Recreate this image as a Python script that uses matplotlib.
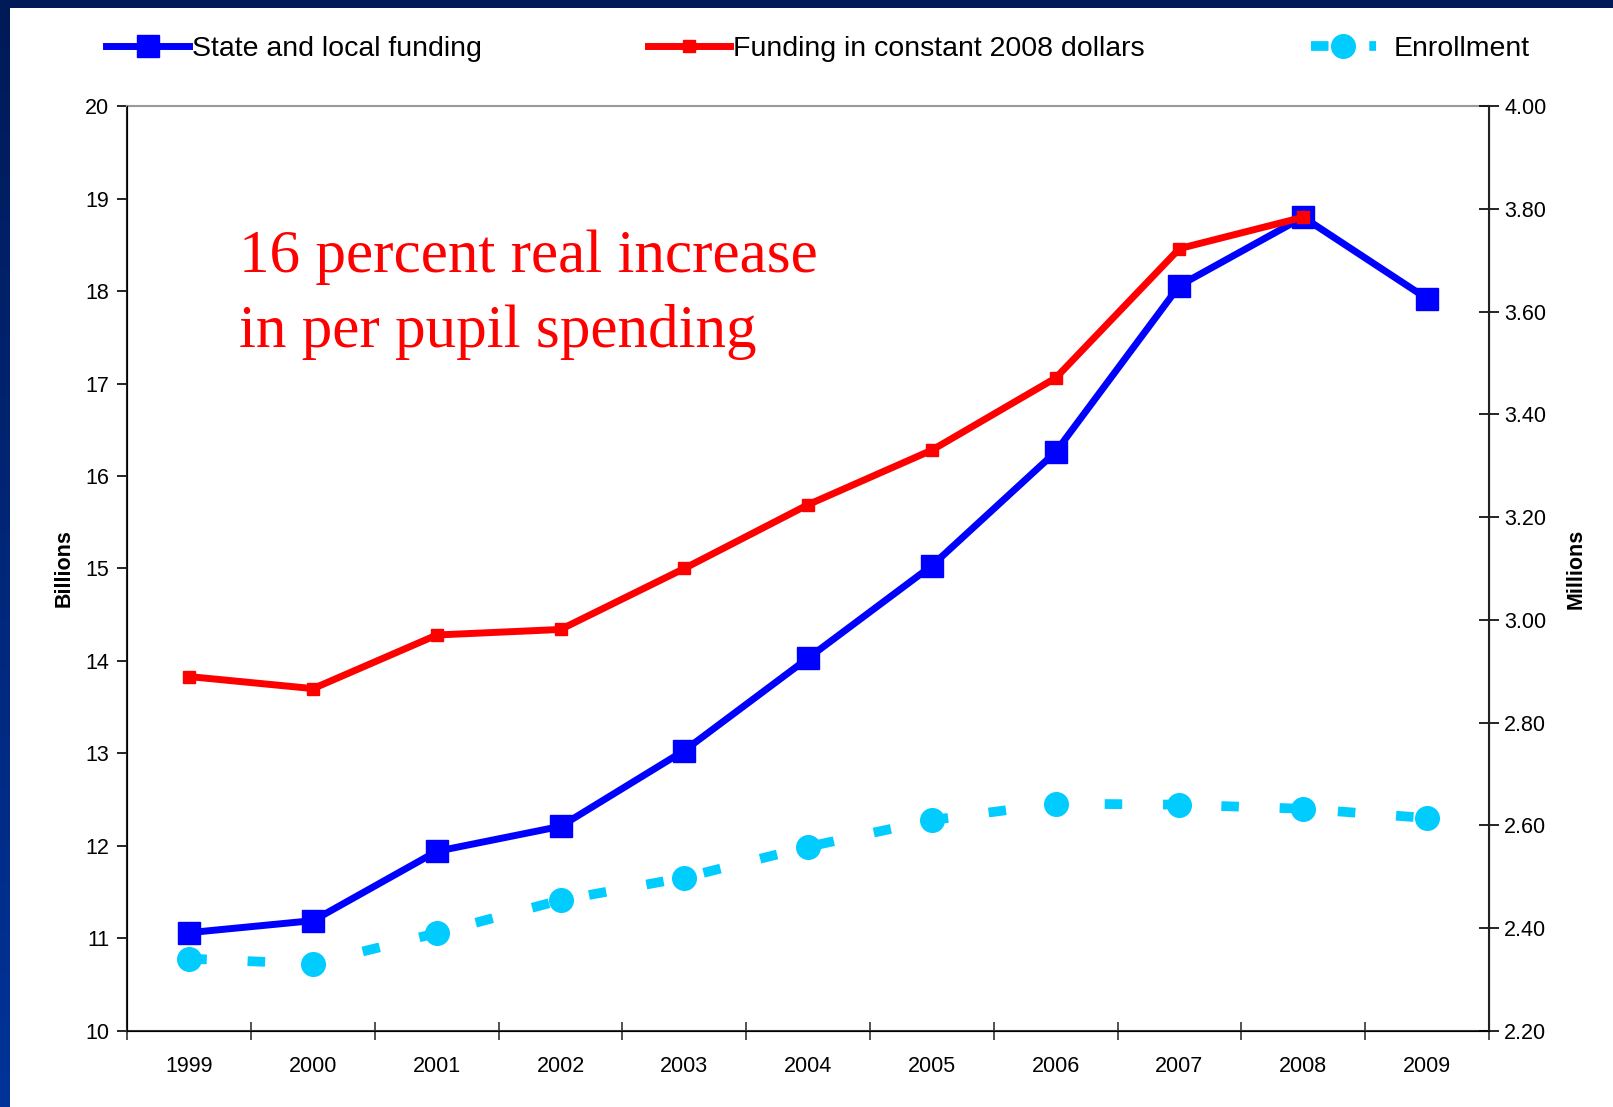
import matplotlib
matplotlib.use("Agg")
import matplotlib.pyplot as plt
import numpy as np

years = ["1999", "2000", "2001", "2002", "2003", "2004", "2005", "2006", "2007", "2008", "2009"]

# State and local funding, billions of dollars
state_local = [11.06, 11.19, 11.94, 12.21, 13.03, 14.03, 15.03, 16.26, 18.06, 18.80, 17.92]
# Same funding in constant 2008 dollars (ends at 2008)
constant_2008 = [13.83, 13.70, 14.28, 14.34, 15.00, 15.69, 16.28, 17.06, 18.46, 18.80]
# Enrollment, millions of pupils
enrollment = [2.34, 2.33, 2.39, 2.454, 2.498, 2.558, 2.61, 2.642, 2.64, 2.632, 2.614]

plt.rcParams['font.family'] = ['Liberation Sans', 'DejaVu Sans']

fig = plt.figure(figsize=(16.13, 11.07), dpi=100)
fig.patch.set_facecolor('white')

# slide frame: dark strip on top, gradient strip down the left edge
frame_top = fig.add_axes([0, 1 - 8 / 1107, 1, 8 / 1107])
frame_top.set_facecolor('#001a57')
frame_top.set_xticks([])
frame_top.set_yticks([])
for s in frame_top.spines.values():
    s.set_visible(False)

frame_left = fig.add_axes([0, 0, 10 / 1613, 1])
grad = np.linspace(0, 1, 256).reshape(-1, 1)
cmap = matplotlib.colors.LinearSegmentedColormap.from_list('frame', ['#001a57', '#003399'])
frame_left.imshow(grad, aspect='auto', cmap=cmap, extent=[0, 1, 0, 1])
frame_left.axis('off')

ax = fig.add_axes([0.079, 0.069, 0.844, 0.835])
x = np.arange(len(years))

ax.plot(x, state_local, color='#0000ff', lw=5, marker='s', ms=16.5,
        label='State and local funding', zorder=3)
ax.plot(x[:len(constant_2008)], constant_2008, color='#ff0000', lw=5, marker='s', ms=9,
        label='Funding in constant 2008 dollars', zorder=4)

ax.set_xlim(-0.5, len(years) - 0.5)
ax.set_ylim(10, 20)
ax.set_yticks(range(10, 21))
ax.set_xticks(x)
ax.set_xticklabels(years)
ax.set_xticks(np.arange(-0.5, len(years)), minor=True)
ax.tick_params(axis='x', which='major', length=0, pad=18, labelsize=15.5)
ax.tick_params(axis='x', which='minor', direction='inout', length=13, width=1.2, color='#333333')
ax.tick_params(axis='y', direction='out', length=7, width=1.2, labelsize=15.5, pad=6)
ax.set_ylabel('Billions', fontsize=15.5, fontweight='bold', labelpad=8)

ax.spines['top'].set_color('#999999')
ax.spines['top'].set_linewidth(1.5)
ax.spines['left'].set_linewidth(1.5)
ax.spines['bottom'].set_linewidth(1.5)
ax.spines['left'].set_color('#222222')
ax.spines['bottom'].set_color('#333333')

ax2 = ax.twinx()
ax2.plot(x, enrollment, color='#00ccff', lw=7, ls=(0, (1.8, 4.2)), marker='o', ms=17,
         label='Enrollment', zorder=3)
ax2.set_ylim(2.2, 4.0)
ax2.set_yticks(np.arange(2.2, 4.01, 0.2))
ax2.set_yticklabels([f"{v:.2f}" for v in np.arange(2.2, 4.01, 0.2)])
ax2.tick_params(axis='y', direction='inout', length=14, width=1.2, labelsize=15.5, pad=4)
ax2.set_ylabel('Millions', fontsize=15.5, fontweight='bold', labelpad=14)
ax2.spines['right'].set_linewidth(1.5)
ax2.spines['right'].set_color('#222222')
ax2.spines['top'].set_visible(False)

ax.text(0.40, 17.25, "16 percent real increase\nin per pupil spending",
        family=['Liberation Serif', 'DejaVu Serif'], fontsize=44, color='#ff0000',
        linespacing=1.45, va='bottom', ha='left')

# one legend per series so each entry sits where it should along the top
lines = ax.get_lines()[:2] + ax2.get_lines()
legend_x = [0.066, 0.4015, 0.8125]
handle_len = [2.9, 2.9, 2.3]
text_pad = [0.1, 0.1, 0.6]
for line, lx, hl, tp in zip(lines, legend_x, handle_len, text_pad):
    leg = fig.legend([line], [line.get_label()], loc='center left',
                     bbox_to_anchor=(lx, 0.956), frameon=False, fontsize=20.5,
                     handlelength=hl, handletextpad=tp, borderpad=0, borderaxespad=0)

fig.savefig('out.png', dpi=100)
